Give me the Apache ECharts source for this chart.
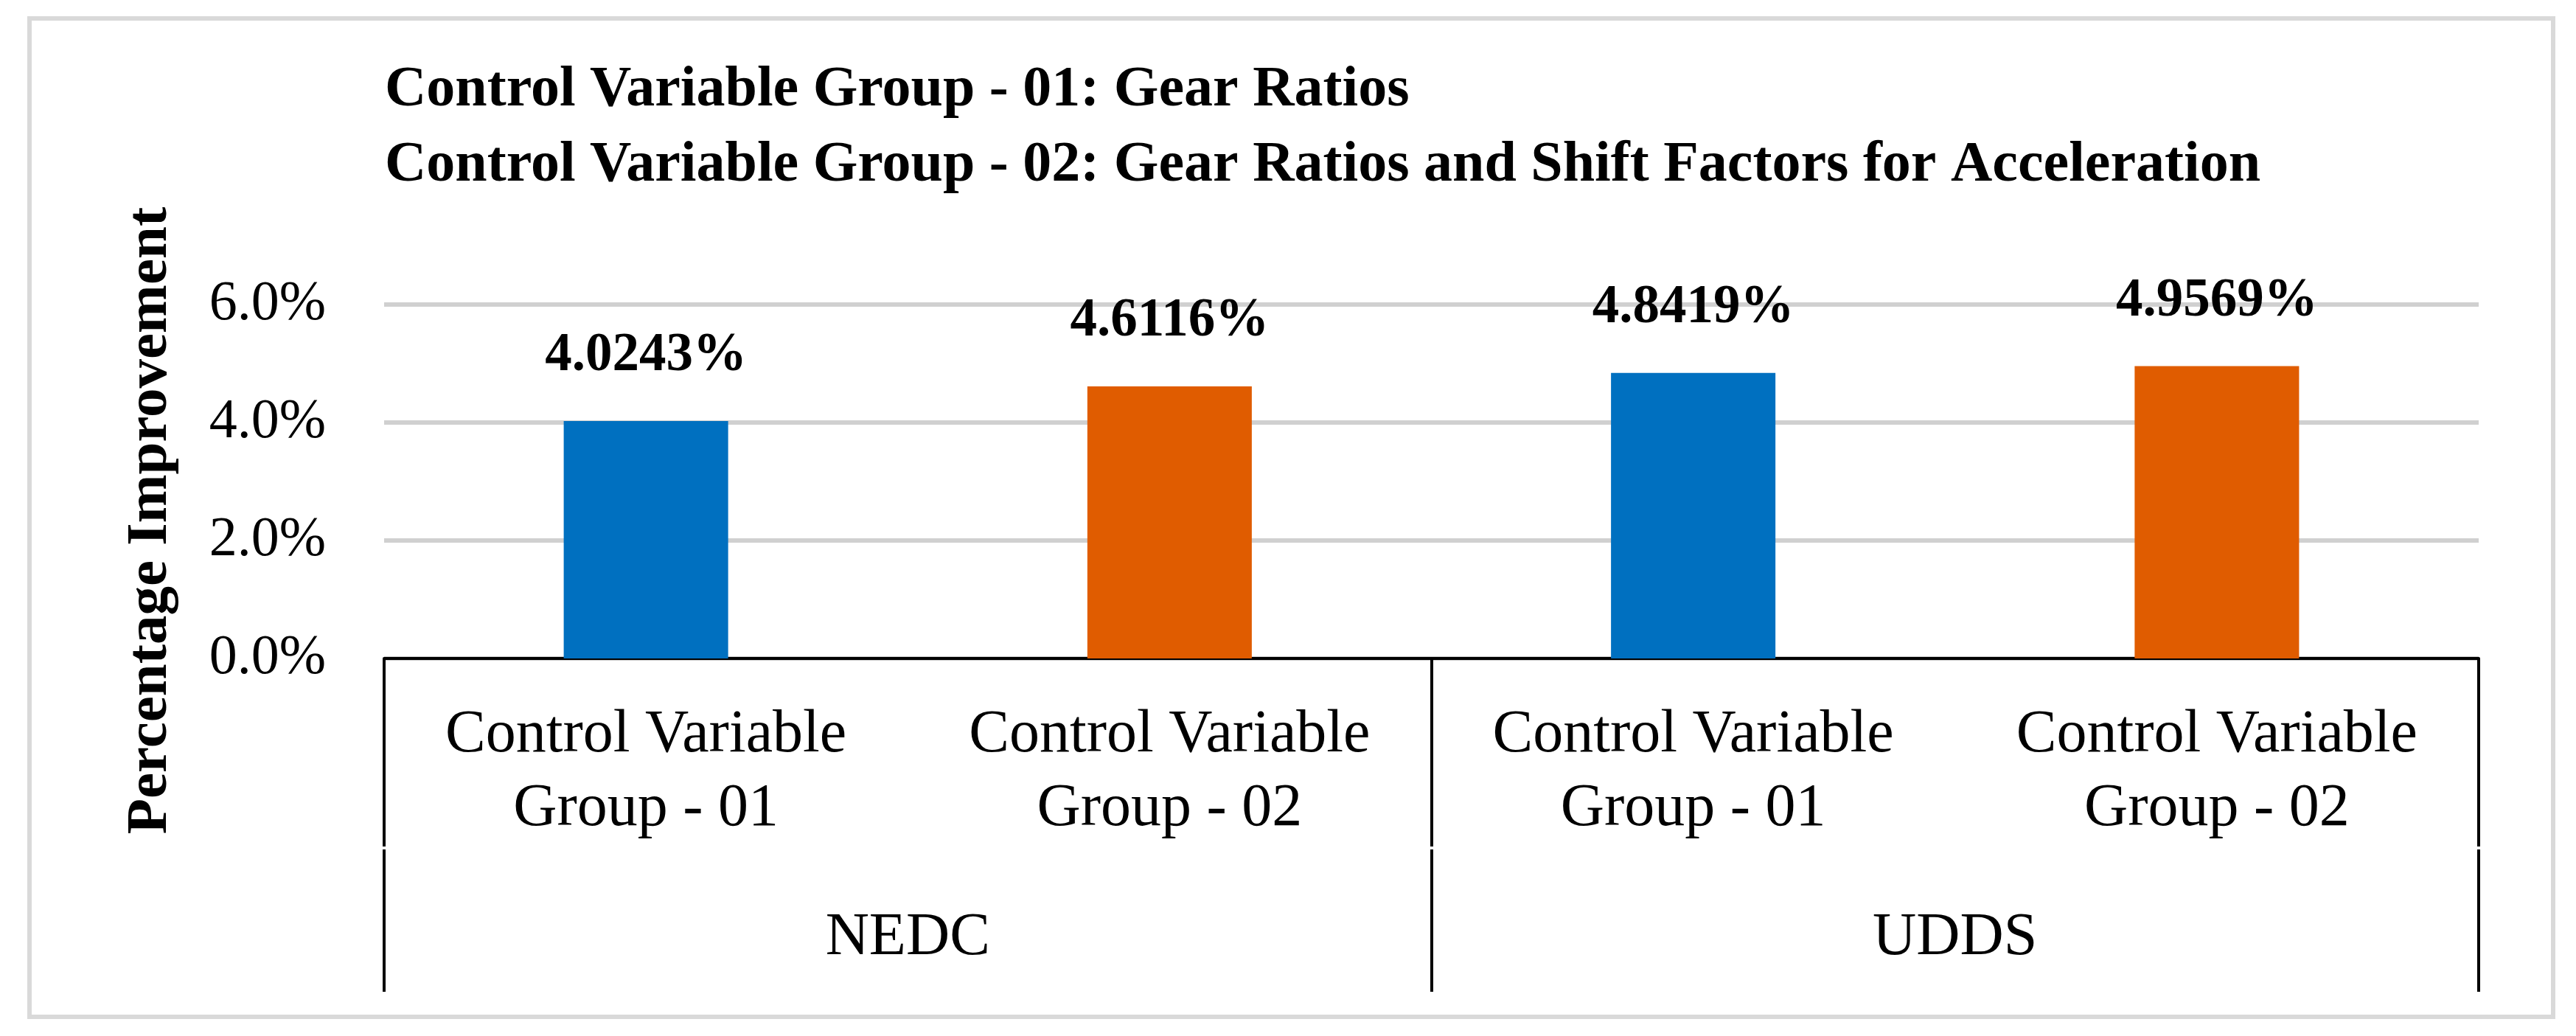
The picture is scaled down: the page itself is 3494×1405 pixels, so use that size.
<!DOCTYPE html>
<html>
<head>
<meta charset="utf-8">
<script src="https://cdn.jsdelivr.net/npm/echarts@6/dist/echarts.min.js"></script>
<style>
html,body{margin:0;padding:0;background:#fff;}
#c{width:3494px;height:1405px;}
</style>
</head>
<body>
<div id="c"></div>
<script>
var categories = ['Control Variable\nGroup - 01', 'Control Variable\nGroup - 02', 'Control Variable\nGroup - 01', 'Control Variable\nGroup - 02'];
var groups = ['NEDC', 'UDDS'];
var values = [4.0243, 4.6116, 4.8419, 4.9569];
var barColors = ['#0070C0', '#E05C00', '#0070C0', '#E05C00'];
var titleLines = ['Control Variable Group - 01: Gear Ratios', 'Control Variable Group - 02: Gear Ratios and Shift Factors for Acceleration'];
var yTitle = 'Percentage Improvement';

var FONT = "'Liberation Serif', 'Times New Roman', serif";
var chart = echarts.init(document.getElementById('c'));
chart.setOption({
  backgroundColor: '#ffffff',
  animation: false,
  title: {
    text: titleLines.join('\n'),
    left: 522,
    top: 72,
    padding: 0,
    textStyle: { fontFamily: FONT, fontSize: 78, fontWeight: 'bold', color: '#000', lineHeight: 102 }
  },
  graphic: [{
    type: 'rect',
    shape: { x: 40, y: 25, width: 3423, height: 1354 },
    style: { fill: 'none', stroke: '#d9d9d9', lineWidth: 6 },
    silent: true
  }],
  grid: { left: 521, right: 132, top: 413, bottom: 512 },
  yAxis: {
    type: 'value',
    min: 0, max: 6, interval: 2,
    name: yTitle,
    nameLocation: 'middle',
    nameRotate: 90,
    nameGap: 277,
    nameTextStyle: { fontFamily: FONT, fontSize: 79, fontWeight: 'bold', color: '#000', padding: [0, 106, 0, 0] },
    axisLine: { show: false },
    axisTick: { show: false },
    axisLabel: { fontFamily: FONT, fontSize: 76, color: '#000', margin: 79,
      formatter: function (v) { return v.toFixed(1) + '%'; } },
    splitLine: { lineStyle: { color: '#d0d0d0', width: 6 } }
  },
  xAxis: [{
    type: 'category',
    data: categories,
    position: 'bottom',
    axisLine: { show: true, lineStyle: { color: '#000', width: 4 } },
    axisTick: { show: false },
    axisLabel: { fontFamily: FONT, fontSize: 82, color: '#000', lineHeight: 100, margin: 54, interval: 0 }
  }, {
    type: 'category',
    data: groups,
    position: 'bottom',
    offset: 0,
    axisLine: { show: false },
    axisTick: { show: true, length: 255, lineStyle: { color: '#000', width: 4 } },
    axisLabel: { show: false }
  }, {
    type: 'category',
    data: groups,
    position: 'bottom',
    offset: 259,
    axisLine: { show: false },
    axisTick: { show: true, length: 193, lineStyle: { color: '#000', width: 4 } },
    axisLabel: { fontFamily: FONT, fontSize: 82, color: '#000', margin: 79, interval: 0 }
  }],
  series: [{
    type: 'bar',
    xAxisIndex: 0,
    data: values,
    barWidth: '31.4%',
    itemStyle: { color: function (p) { return barColors[p.dataIndex]; } },
    label: {
      show: true,
      position: 'top',
      distance: 51,
      fontFamily: FONT, fontSize: 73, fontWeight: 'bold', color: '#000',
      formatter: function (p) { return p.value.toFixed(4) + '%'; }
    }
  }]
});
</script>
</body>
</html>
